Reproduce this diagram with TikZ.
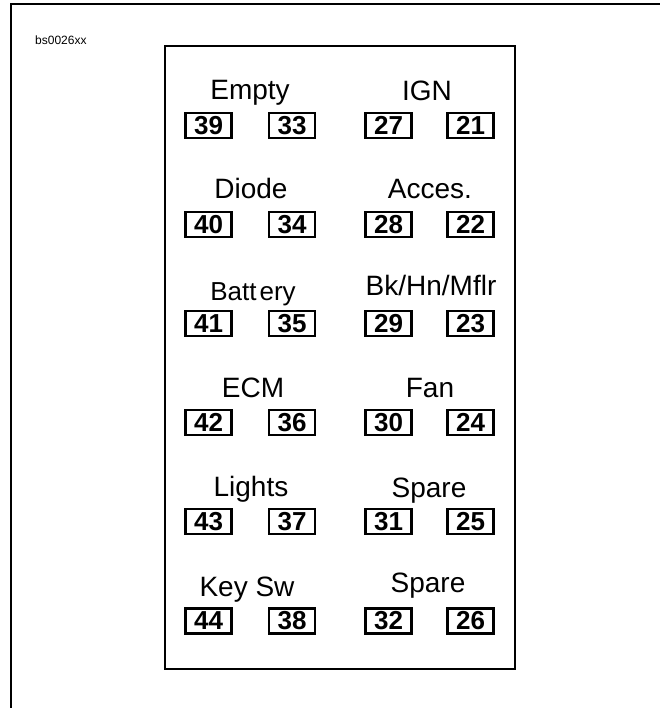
\documentclass[tikz,border=0pt]{standalone}
\usepackage{fontspec}
\setmainfont{Liberation Sans}
\begin{document}
\begin{tikzpicture}[x=1pt,y=-1pt,
  pinbox/.style={draw, line width=2.1pt, minimum width=46pt, minimum height=25pt, inner sep=0pt,
    font=\fontsize{26}{26}\selectfont\bfseries},
  lbl/.style={anchor=base, inner sep=0pt, font=\fontsize{28}{28}\selectfont},
  frame/.style={line width=1.6pt},
  panel/.style={line width=2.5pt}]
\useasboundingbox (0,0) rectangle (660,708);
% outer frame (open on right and bottom)
\coordinate (fbl) at (11,708);
\coordinate (ftl) at (11,4);
\coordinate (ftr) at (660,4);
\draw[frame] (fbl) -- (ftl) -- (ftr);
\node[anchor=base west, inner sep=0pt, font=\fontsize{12}{12}\selectfont] (tag) at (35,45) {bs0026xx};
% panel
\draw[panel] (165,46) rectangle (515,669);
% row 1
\node[lbl] (l1) at (250,100) {Empty};
\node[lbl] (r1) at (427,101) {IGN};
\node[pinbox] (p39) at (208.5,125.5) {39};
\node[pinbox] (p33) at (292,125.5) {33};
\node[pinbox] (p27) at (388.5,125.5) {27};
\node[pinbox] (p21) at (470.5,125.5) {21};
% row 2
\node[lbl] (l2) at (251,199) {Diode};
\node[lbl] (r2) at (430,199) {Acces.};
\node[pinbox] (p40) at (208.5,224.6) {40};
\node[pinbox] (p34) at (292,224.6) {34};
\node[pinbox] (p28) at (388.5,224.6) {28};
\node[pinbox] (p22) at (470.5,224.6) {22};
% row 3
\node[lbl, font=\fontsize{26}{26}\selectfont] (l3) at (253,300) {Batt\kern3pt ery};
\node[lbl] (r3) at (431,295) {Bk/Hn/Mflr};
\node[pinbox] (p41) at (208.5,323.7) {41};
\node[pinbox] (p35) at (292,323.7) {35};
\node[pinbox] (p29) at (388.5,323.7) {29};
\node[pinbox] (p23) at (470.5,323.7) {23};
% row 4
\node[lbl] (l4) at (253,397) {ECM};
\node[lbl] (r4) at (430,397) {Fan};
\node[pinbox] (p42) at (208.5,422.8) {42};
\node[pinbox] (p36) at (292,422.8) {36};
\node[pinbox] (p30) at (388.5,422.8) {30};
\node[pinbox] (p24) at (470.5,422.8) {24};
% row 5
\node[lbl] (l5) at (251,496.5) {Lights};
\node[lbl] (r5) at (429,497) {Spare};
\node[pinbox] (p43) at (208.5,521.9) {43};
\node[pinbox] (p37) at (292,521.9) {37};
\node[pinbox] (p31) at (388.5,521.9) {31};
\node[pinbox] (p25) at (470.5,521.9) {25};
% row 6
\node[lbl] (l6) at (247,596) {Key Sw};
\node[lbl] (r6) at (428,592) {Spare};
\node[pinbox] (p44) at (208.5,621) {44};
\node[pinbox] (p38) at (292,621) {38};
\node[pinbox] (p32) at (388.5,621) {32};
\node[pinbox] (p26) at (470.5,621) {26};
\end{tikzpicture}
\end{document}
